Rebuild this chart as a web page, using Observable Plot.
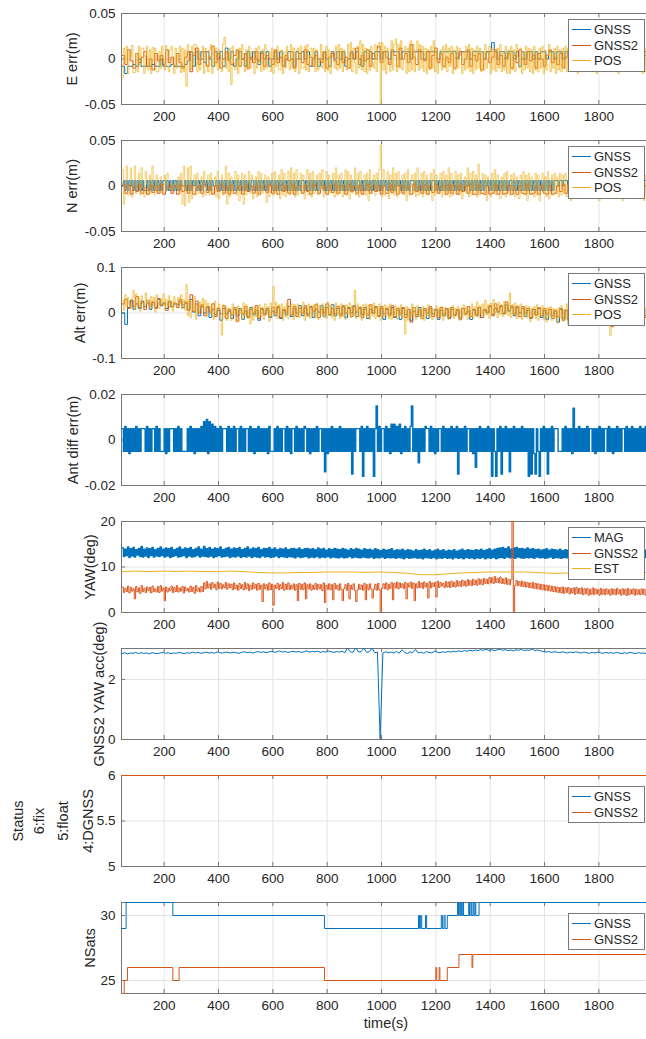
<!DOCTYPE html>
<html><head><meta charset="utf-8">
<script src="https://cdn.jsdelivr.net/npm/d3@7"></script>
<script src="https://cdn.jsdelivr.net/npm/@observablehq/plot@0.6"></script>
<style>
html,body{margin:0;padding:0;overflow:hidden;background:#fff;width:646px;height:1039px}
#chart{position:relative;width:652px}
.panel{position:relative}
.panel svg{display:block;overflow:visible}
.legend{position:absolute;left:568px;width:75px;background:#fff;border:1px solid #7a7a7a;font:13px "Liberation Sans",Arial,sans-serif;color:#262626;padding:2px 0;z-index:2}
.legend .row{display:flex;align-items:center;height:15.5px;white-space:nowrap}
.legend .sw{width:19px;height:0;border-top:1px solid;margin:0 3px 0 3px}
</style></head><body><div id="chart"></div>
<script>
// ---------- data ----------
const xTicks = [200, 400, 600, 800, 1000, 1200, 1400, 1600, 1800];
const timeDomain = [43, 1990];
const sampleStart = 45, sampleStep = 10, fastSampleStep = 5, estSampleStep = 50;

// E error (mm)
const eErrGnss = [-8,-16,-8,-8,-6,-8,0,-8,-8,-8,-8,-6,-8,-8,0,-8,-8,-8,-6,-8,
-8,-8,-8,-6,-2,8,-8,8,0,8,-4,8,0,-8,8,0,8,-8,12,0,
8,-8,0,8,0,-8,8,0,8,0,-6,8,0,8,-8,0,8,0,8,-8,
0,8,0,-8,8,0,8,0,8,-8,0,8,-8,0,8,0,-8,8,0,8,
0,8,-8,0,8,0,8,0,-8,8,0,8,0,8,8,0,8,8,0,8,
8,8,0,8,8,8,0,8,8,8,8,0,8,8,8,8,0,8,8,8,
8,8,8,0,8,8,8,8,0,8,8,8,8,0,8,8,18,8,0,8,
8,0,8,8,0,8,-8,8,0,8,8,0,8,0,8,8,0,8,8,0,
8,8,0,8,8,8,-8,8,8,0,8,8,8,0,8,8,8,8,0,8,
8,8,0,8,8,8,8,-8,8,8,0,8,8,8,8];
const eErrGnss2 = [4,-6,10,-2,-10,6,-4,2,8,-8,0,-12,6,-2,4,-6,10,-4,2,-8,
6,-4,-10,2,8,-14,4,12,-6,0,8,-8,2,14,-4,6,-10,0,8,-2,
-6,4,10,-8,0,6,-10,2,-4,8,-2,6,-8,4,0,-6,10,-4,2,-8,
4,-2,8,-10,0,6,-4,10,-6,2,-8,4,0,-4,8,-10,2,6,-2,-6,
8,-4,2,-10,6,0,12,-6,4,-2,10,-8,6,0,14,-4,8,2,-6,10,
4,-8,12,0,6,-4,16,2,-6,10,0,-2,8,-10,4,12,-4,6,-8,2,
-4,6,-10,2,8,-6,0,10,-8,4,-2,6,-12,0,8,-4,2,10,-6,4,
-8,2,6,-10,4,-4,10,0,-6,8,-2,4,-10,6,0,-8,4,10,-4,2,
-6,6,-10,2,8,-4,0,6,-8,10,-2,4,-6,8,0,-10,4,2,-4,6,
-8,2,8,-6,4,-2,10,-4,0,6,-8,2,4,-6,8];
// one sample per 5 s
const eErrPos = [-20,12,-4,14,-16,8,2,15,-15,-15,6,-14,14,-8,12,12,-16,4,14,-12,
10,-16,13,-2,12,-14,-14,8,-10,14,0,-12,15,-8,-14,10,14,-6,-16,12,
-10,4,14,-15,12,-14,10,-30,16,-2,-12,14,-8,16,16,-14,10,-12,2,14,
-16,12,-6,-14,10,16,-16,14,-8,12,-12,10,4,-14,16,24,-10,8,-14,12,
-28,14,-4,-12,10,-16,12,-8,16,0,-14,10,-12,14,-10,8,8,-16,12,-10,
14,-4,-14,10,-12,16,-10,2,8,-14,12,-16,10,-8,14,-12,-12,10,-16,8,
-10,14,0,-12,16,-10,12,-14,6,12,-16,14,-10,-10,14,-12,16,-14,4,12,
-8,12,-14,10,-12,-2,16,-10,8,-14,14,-12,10,-16,8,2,-10,14,-12,16,
-10,12,-14,10,0,-12,16,-10,18,-14,12,-4,-16,14,-10,20,-12,16,-14,12,
-16,10,-12,14,-4,-10,16,-14,12,18,-50,18,-12,14,-16,12,-2,-14,20,-12,
16,22,-14,16,-10,20,-12,0,14,-16,12,-14,20,-12,16,-14,10,20,-12,16,
-10,14,-14,12,-16,10,-12,14,-10,20,-14,12,-16,0,10,-12,14,-10,16,-14,
12,-8,14,-16,10,-12,14,-10,12,4,-16,8,-12,14,-10,16,-14,12,-16,10,
-12,14,-10,12,-14,8,-12,16,-10,0,14,-16,12,-12,10,-14,12,-10,16,-14,
8,-12,14,-16,10,-16,14,-12,10,-14,16,2,-10,12,-16,8,-12,14,-10,12,
-14,10,-16,14,-12,8,-14,12,-10,14,-16,10,-12,4,16,-14,8,-10,12,-16,
14,-12,10,-14,12,-10,14,-14,12,-10,16,-12,14,-10,12,-16,10,-12,14,-10,
12,-14,10,-12,16,-10,12,-14,8,-16,12,-10,14,-12,10,-14,16,-12,10,-8,
14,-12,10,-14,12,-16,8,-10,14,-12,10,-14,12,-8,16,-12,10,-14,12,-10,
14,-12,10,-16,12,-14,8,-10,14];

// N error (mm), GNSS and POS one sample per 5 s, GNSS2 one per 10 s
const nErrGnss = [0,6,-5,6,-5,6,0,6,-5,6,-5,6,-5,6,-5,6,-5,-5,6,-5,
6,-5,6,-5,6,-5,6,-5,6,-5,6,6,-5,6,-5,6,-5,6,-5,6,
-5,6,-5,6,0,0,6,-5,6,-5,6,-5,6,0,6,-5,6,-5,6,-5,
6,0,6,-5,6,-5,6,0,0,6,-5,6,-5,6,-5,6,-5,6,-5,6,
-5,6,-5,6,-5,6,-5,6,-5,6,-5,6,-5,6,-5,6,6,-5,6,-5,
6,-5,6,-5,6,-5,6,-5,6,0,6,-5,6,-5,6,-5,6,-5,6,-5,
6,-5,6,-5,6,-5,6,-5,6,-5,6,-5,6,6,-5,6,-5,6,-5,6,
-5,6,-5,6,-5,6,0,6,-5,6,-5,6,-5,6,-5,6,-5,6,-5,6,
-5,6,-5,6,-5,6,-5,6,-5,6,-5,6,-5,6,6,-5,6,-5,6,-5,
6,-5,6,-5,6,-5,6,-5,6,-5,6,-5,6,0,6,-5,6,-5,6,-5,
6,-5,6,0,6,-5,6,-5,6,-5,6,-5,6,6,6,-5,6,-5,6,-5,
6,-5,6,-5,6,-5,6,-5,6,6,-5,6,-5,6,-5,6,-5,6,-5,6,
-5,6,-5,6,-5,6,-5,6,-5,6,-5,6,-5,6,0,6,-5,6,-5,6,
-5,6,-5,6,-5,6,-5,6,0,6,-5,6,-5,6,-5,6,-5,6,-5,6,
-5,6,-5,6,-5,6,6,-5,6,-5,6,-5,6,-5,6,-5,6,-5,6,-5,
6,-5,6,-5,6,-5,6,-5,6,-5,6,-5,6,-5,6,-5,6,-5,6,6,
6,0,6,6,0,6,6,6,0,6,6,0,6,6,6,0,6,6,6,0,
6,6,0,6,6,6,6,0,6,6,6,0,6,6,6,6,0,6,6,6,
0,6,6,6,6,0,6,6,6,6,0,6,6,6,0,6,6,6,6,0,
6,6,6,0,6,6,6,6,0];
const nErrGnss2 = [2,-8,1,-9,0,-6,2,-8,-2,-9,1,-7,0,-8,2,-9,-3,1,-8,0,
-9,2,-6,0,-8,1,-9,-2,0,-8,2,-7,-1,-9,0,-6,2,-8,0,-9,
1,-8,-3,0,-9,2,-6,0,-8,1,-9,-2,0,-7,2,-8,0,-9,1,-6,
0,-8,2,-9,-1,0,-8,1,-6,-9,2,0,-8,-2,1,-9,0,-7,2,-8,
-1,0,-9,2,-6,0,-8,1,-9,-3,2,-8,0,-6,1,-9,0,-8,2,-7,
0,-9,1,-8,-2,0,-9,2,-6,0,-8,1,-9,0,-7,2,-8,-1,0,-9,
2,-8,0,-9,1,-6,0,-8,2,-9,-9,1,-8,-9,0,-9,-8,2,-9,0,
-9,-8,1,-9,-2,-9,0,-8,-9,2,-9,-8,0,-9,1,-8,-9,0,-9,-8,
0,-6,2,-8,0,-9,1,-7,0,-8,2,-9,0,-6,1,-8,0,-9,2,-7,
0,-8,1,-9,0,-6,2,-8,0,-9,1,-7,0,-8,2];
const nErrPos = [18,-20,4,22,-10,2,20,-12,0,22,-8,3,14,-10,20,-2,-12,16,2,-10,
12,-8,22,0,-10,12,-6,4,10,-8,1,12,-6,14,-2,-4,6,-8,2,4,
-3,10,-8,14,-20,22,-22,2,20,-18,22,-14,0,12,-10,14,-8,2,10,-12,
16,-10,3,12,-10,14,-8,0,10,-12,16,-14,2,12,-10,4,22,-20,14,-12,
10,-8,2,16,-10,12,-16,0,14,-20,12,-10,3,16,-8,12,-14,0,10,-12,
16,-10,14,-8,2,12,-18,10,-12,0,14,-10,16,-8,4,12,-14,18,-10,14,
-12,2,16,-10,20,-8,14,-12,18,-10,0,14,-8,12,-14,2,18,-10,14,-12,
16,-8,4,12,-10,14,-4,18,-12,0,16,-10,12,-8,2,14,-12,20,-10,12,
-8,14,-12,2,18,-10,16,-14,12,-8,0,20,-10,14,-12,16,-8,2,12,-10,
14,-16,18,-8,2,12,-10,14,-6,18,45,-12,18,-10,4,16,-14,12,-8,20,
-10,14,-12,16,-8,2,12,-10,14,-16,18,-10,0,12,-8,14,-12,20,-10,4,
14,-12,16,-8,12,-10,2,14,-16,18,-10,12,-8,0,14,-12,16,-10,12,-8,
20,-12,14,-10,2,16,-8,12,-10,14,-14,0,10,-8,20,-12,14,-10,16,-8,
12,-12,24,-10,2,14,-8,12,-16,10,0,-12,14,-8,18,-10,12,2,-14,10,
-8,14,-12,16,0,-10,12,-8,14,-12,10,2,-14,12,-8,16,-10,12,-16,14,
-8,10,2,-12,14,-10,12,-16,0,14,-8,10,-12,16,-14,2,12,-10,14,-8,
10,-12,14,-10,12,-8,14,-12,2,10,-16,14,-8,12,-10,0,14,-12,10,-8,
14,-12,10,-14,16,-10,12,-8,14,-12,10,-16,12,-10,2,14,-8,12,-12,10,
-14,16,-10,12,-8,14,-12,10,-16,12,-10,14,-8,12,-12,10,-14,16,-10,12,
-8,14,-12,10,-16,12,-10,14,-8];

// Altitude error (mm)
const altErrGnss = [0,-25,12,28,8,20,10,26,14,22,8,24,12,30,16,22,10,24,14,20,
18,26,12,22,8,30,2,20,-6,14,0,12,-10,8,-4,6,-16,10,-2,4,
-12,8,-6,10,-14,4,-8,12,-4,6,-16,8,-2,10,-10,4,-6,12,-12,6,
-4,14,-8,10,0,16,-6,12,-2,14,-10,8,2,16,-8,12,-4,18,-6,10,
-2,14,-10,12,0,16,-8,10,-4,12,-12,8,0,14,-6,10,-14,8,-2,12,
-10,6,-14,10,-4,8,-16,4,-8,12,-6,6,-12,10,-2,8,-14,6,-6,10,
-12,8,-4,6,-10,10,-2,4,-14,8,-6,12,-10,6,0,14,-4,10,2,16,
-2,18,4,12,-6,14,0,10,-8,6,-12,8,-4,10,-10,6,-14,8,-6,4,
-20,8,-12,6,-16,10,-8,4,-22,8,-10,6,-14,10,-6,4,-12,8,-18,6,
-10,8,-14,4,-6,10,-16,6,-8,4,-12,8,-10,6,-4];
const altErrGnss2 = [20,30,10,26,14,36,12,22,8,28,16,24,10,32,18,20,6,26,14,22,
12,30,18,24,6,40,4,26,0,18,-6,14,2,20,-8,10,-2,16,-12,8,
-4,12,-18,6,-2,14,-10,8,0,16,-12,10,-4,6,-8,12,0,14,-10,8,
2,30,-4,14,-8,10,0,16,-6,12,4,18,-10,8,0,20,-4,10,-2,14,
-6,16,0,10,-8,14,2,12,-10,8,-4,18,0,12,-8,14,-2,10,-6,16,
-8,10,-2,12,-10,8,-20,12,-4,6,-12,10,0,14,-8,6,-10,12,-2,8,
-10,12,-6,8,-14,10,-2,14,-8,6,-4,12,-10,8,2,16,-6,20,4,14,
0,24,6,16,-2,12,-8,14,0,10,-10,8,-4,12,-6,10,-2,8,-12,6,
-8,10,-16,6,-4,12,-10,8,-6,10,-14,6,-2,8,-8,12,-4,6,-10,8,
-30,6,-10,8,-4,10,-12,6,-2,8,-10,4,-6,10,-8];
// one sample per 5 s
const altErrPos = [28,6,40,14,34,18,10,32,50,8,42,16,30,4,38,22,12,44,20,28,
10,36,14,34,2,40,24,10,32,18,42,8,30,16,38,12,26,4,36,20,
14,34,20,40,10,30,6,62,-6,30,-10,26,4,36,-14,20,0,24,10,32,
4,28,-8,22,14,-2,18,-14,26,-6,12,20,-10,-48,18,-8,14,-16,10,2,
-16,20,-4,12,-20,16,-2,10,-14,22,-6,18,-12,8,-24,14,-16,14,-8,12,
-10,18,-6,12,-14,20,-2,14,-18,22,-8,58,-4,24,-12,18,-6,20,-16,14,
-8,22,-12,16,-4,20,-14,18,-6,20,-10,14,-2,24,-16,12,-8,20,-12,16,
-6,18,-10,22,-14,16,-4,20,-8,14,-12,24,-6,18,-10,12,-16,22,-4,16,
-12,20,-8,14,-14,18,-2,22,-10,16,-6,50,-12,20,-8,14,-16,18,-4,20,
-10,16,-14,18,-6,22,-12,14,-8,20,-16,12,-10,18,-6,14,-12,20,-14,10,
-8,16,-14,12,-6,18,-12,10,-46,14,-16,8,-10,20,-6,12,-14,16,-8,10,
-12,14,-16,10,-6,18,-10,12,-14,8,-4,16,-12,10,-8,14,-16,12,-6,10,
-14,12,-8,16,-12,10,-4,14,-16,8,-10,18,-6,12,-14,10,-8,20,-12,14,
-6,24,-10,16,-2,20,-8,28,-4,18,-12,22,-6,30,-2,16,-10,24,-4,18,
-8,26,-2,20,-6,44,-10,18,-4,22,-12,16,-6,20,-14,12,-8,16,-10,14,
-18,10,-8,14,-12,18,-16,12,-6,16,-14,10,-20,12,-8,14,-16,10,-12,8,
-22,12,-10,16,-18,8,-14,20,-26,10,-8,14,-20,12,-6,16,-16,10,-12,14,
-18,10,-14,8,-22,12,-10,16,-16,6,-12,14,-20,10,-8,12,-14,8,-18,-50,
12,-14,8,-10,16,-20,10,-6,12,-16,8,-10,14,-12,10,-18,12,-8,14,-14,
10,-12,8,-16,12,-10,14,-8,10];

// Antenna difference error (mm), one sample per 5 s
const antDiffErr = [5,-5,6,-5,5,-6,5,-5,5,-5,6,-5,5,-5,5,5,5,-5,6,-5,
5,-5,5,5,-5,6,-5,5,-5,-5,-5,5,-6,5,-5,5,5,5,-5,5,
-5,6,-5,5,-5,-5,-5,-5,5,-5,6,-5,5,-6,5,-5,5,-5,6,-5,
8,-5,9,-6,8,-5,7,-5,6,-5,5,-5,6,-5,5,5,5,-5,6,-5,
5,-5,6,-5,5,5,-5,6,-5,5,-5,5,5,-5,6,-5,5,-6,5,-5,
6,-5,5,-5,5,-5,5,-6,6,-5,-5,-5,5,-5,6,-5,5,-5,5,5,
-5,6,-5,5,-6,5,5,-5,6,-5,5,-5,5,-5,6,5,-5,5,-6,5,
-5,5,-5,6,-5,5,5,-5,5,-14,5,-6,5,-5,6,-5,5,-5,5,-5,
6,-5,5,-5,5,-5,5,-5,5,-15,5,-5,5,5,5,-5,6,-16,5,-5,
6,-5,5,-5,5,-16,5,15,-5,6,-5,5,5,-5,6,-5,5,-6,7,-5,
7,-5,6,-5,7,-6,5,-5,6,-5,5,-5,6,15,-5,5,-5,5,-10,5,
-5,5,-5,6,5,5,-5,6,-5,5,-6,5,-5,5,5,-5,6,-5,5,-5,
5,-5,6,-5,5,-5,6,-15,5,-5,5,-5,6,-5,5,5,-5,5,-6,5,
-12,5,-5,6,-5,5,-5,5,-5,6,-5,5,-16,5,-5,-16,5,-5,6,-15,
5,-5,6,-5,5,-14,5,-5,6,-5,5,-5,5,-5,6,-5,5,-5,5,-16,
5,-15,5,-6,-15,5,-5,-16,5,-5,6,-5,5,-15,5,-5,6,-5,5,5,
5,-5,-5,-5,5,-5,6,-5,5,-5,5,-6,14,-5,5,-5,6,-5,5,-5,
5,-5,6,-5,5,5,-5,5,-6,5,-5,6,-5,5,-5,5,5,-5,6,-5,
5,-6,5,-5,6,-5,5,-5,5,5,-5,6,-5,5,-5,6,-5,5,-5,5,
-5,6,-5,5,-5,6,-5,5,-5];

// Yaw (deg), one sample per 5 s
const yawMag = [14.2,12.3,13.9,12.5,14.4,12.1,14.0,12.4,14.3,12.2,13.8,12.6,14.1,12.3,14.5,12.2,13.9,12.4,14.2,12.1,
14.0,12.5,14.3,12.2,13.8,12.4,14.1,12.3,14.4,12.5,13.9,12.2,14.2,12.4,14.0,12.1,14.3,12.3,13.8,12.5,
14.1,12.2,14.4,12.3,13.9,12.5,14.2,12.1,14.0,12.4,14.3,12.2,13.8,12.3,14.1,12.5,14.4,12.2,13.9,12.4,
14.5,12.3,14.0,12.2,14.3,12.4,13.9,12.1,14.2,12.3,14.0,12.5,14.4,12.2,13.8,12.3,14.1,12.4,14.3,12.1,
13.9,12.3,14.2,12.2,14.0,12.4,14.3,12.1,13.8,12.3,14.1,12.2,14.4,12.4,13.9,12.1,14.2,12.3,14.0,12.2,
14.3,12.1,13.8,12.4,14.1,12.2,14.0,12.3,14.3,12.1,13.9,12.2,14.2,12.4,13.8,12.1,14.1,12.3,13.9,12.2,
14.2,12.1,13.8,12.3,14.0,12.2,14.1,12.0,13.9,12.3,14.2,12.1,13.8,12.2,14.0,12.3,14.1,12.0,13.9,12.2,
14.0,12.1,13.8,12.3,14.2,12.0,13.9,12.2,14.1,12.1,13.7,12.3,14.0,12.0,13.8,12.2,14.1,12.1,13.9,12.0,
13.8,12.2,14.1,12.0,13.9,12.1,13.7,12.3,14.0,12.0,13.8,12.2,14.1,12.1,13.9,12.0,13.7,12.2,14.0,12.1,
13.8,12.0,13.9,12.2,13.7,11.9,14.0,12.1,13.8,12.0,13.6,12.2,13.9,11.9,13.7,12.1,13.8,12.0,14.0,12.1,
13.6,11.9,13.8,12.1,13.7,12.0,13.9,11.8,13.6,12.1,13.8,11.9,13.7,12.0,13.5,12.1,13.8,11.9,13.6,12.0,
13.7,11.8,13.9,12.1,13.6,12.0,13.8,11.9,13.5,12.1,13.7,11.8,13.9,12.0,13.6,11.9,13.8,12.1,13.5,11.9,
13.7,12.0,13.6,11.8,13.8,12.1,13.5,11.9,13.7,12.0,13.9,11.8,13.6,12.1,13.8,11.9,13.7,12.0,13.6,11.8,
13.8,12.0,13.7,11.9,13.9,12.1,13.6,11.8,13.8,12.0,14.0,11.9,13.7,12.1,13.9,11.8,14.1,12.0,14.2,12.1,
14.3,11.9,14.0,12.2,14.4,12.0,13.9,12.1,14.2,11.9,14.3,12.2,14.0,12.0,14.1,11.9,13.9,12.1,14.2,12.0,
13.9,12.1,14.0,11.9,13.8,12.2,13.9,12.0,13.7,12.1,13.8,11.9,14.0,12.0,13.7,12.2,13.9,11.9,13.8,12.1,
13.7,12.0,13.9,11.9,13.6,12.1,13.8,12.0,13.7,11.8,13.9,12.1,13.6,12.0,13.8,11.9,13.7,12.1,13.9,12.0,
13.6,11.9,13.8,12.1,13.7,12.0,13.9,11.9,13.6,12.1,13.8,12.0,13.7,11.8,13.9,12.1,13.6,12.0,13.8,11.9,
13.7,12.1,13.9,12.0,13.6,11.9,13.8,12.1,13.7,12.0,13.9,11.9,13.6,12.1,13.8,12.0,13.7,11.9,13.9,12.1,
13.6,12.0,13.8,11.9,13.7,12.1,13.9,12.0,13.6];
const yawGnss2 = [5.6,4.4,5.3,4.6,5.8,4.3,5.5,4.7,5.2,3.0,5.7,4.5,5.4,4.2,5.9,4.6,5.3,4.4,5.6,4.8,
5.5,4.3,5.8,4.6,5.2,4.5,5.7,4.4,5.9,4.7,5.4,2.6,5.6,4.5,5.3,4.8,5.8,4.4,5.5,4.6,
5.9,4.5,5.4,4.7,5.7,4.3,5.6,4.8,5.3,4.5,5.8,4.6,5.5,4.2,5.9,4.7,5.4,4.5,5.7,4.6,
6.5,5.2,6.8,5.4,6.3,5.1,6.6,5.5,6.2,5.0,6.7,5.3,6.4,5.2,6.1,5.4,6.6,5.1,6.3,5.5,
6.2,5.0,6.5,5.2,6.0,4.9,6.4,5.3,6.1,5.0,6.6,5.2,6.3,4.8,6.0,5.1,6.5,5.3,6.2,4.9,
6.4,5.1,6.0,2.4,6.3,5.2,6.1,4.9,6.5,5.0,6.2,1.6,6.0,5.3,6.4,5.0,6.1,5.2,6.6,4.9,
6.2,5.1,6.5,5.0,6.0,5.2,6.3,4.9,6.1,2.6,6.4,5.1,6.2,5.0,6.5,3.0,6.1,5.2,6.3,4.9,
6.0,5.1,6.4,5.0,6.2,5.2,6.1,4.8,6.5,2.2,6.0,5.1,6.3,5.0,6.1,2.8,6.4,5.2,6.0,4.9,
6.3,5.0,2.6,5.2,6.1,4.9,6.4,3.0,6.0,5.1,6.3,4.8,2.4,5.0,6.2,5.1,6.0,4.9,6.4,2.8,
6.1,5.0,6.3,5.2,3.2,5.1,6.2,4.9,6.4,5.0,0.0,5.3,6.3,5.2,6.5,5.0,6.2,5.3,6.6,2.8,
6.4,5.4,6.7,5.2,6.5,5.5,6.3,5.3,6.6,3.0,6.4,5.6,6.7,5.3,6.5,2.6,6.3,5.4,6.8,5.5,
6.5,5.3,6.7,5.6,6.4,3.2,6.8,5.4,6.5,5.7,6.6,3.4,6.9,5.5,6.6,5.8,6.4,5.5,6.8,5.6,
6.7,5.5,6.9,5.7,6.6,5.6,7.0,5.8,6.8,5.7,7.1,5.9,6.9,5.8,7.2,6.0,7.0,5.9,7.3,6.1,
7.1,6.0,7.4,6.2,7.2,6.1,7.5,6.4,7.3,6.3,7.7,6.5,7.6,6.4,7.9,6.6,7.5,6.5,7.8,6.4,
7.4,6.3,7.6,6.2,7.3,6.1,7.2,25,-5,6.0,7.0,5.9,6.8,5.8,6.9,5.7,6.7,5.6,6.6,5.5,
6.5,5.4,6.6,5.3,6.4,5.2,6.3,5.1,6.2,5.0,6.1,4.9,6.0,4.8,5.9,4.7,5.8,4.6,5.7,4.5,
5.6,4.4,5.5,4.3,5.6,4.2,5.4,4.4,5.5,4.1,5.3,4.3,5.4,4.0,5.5,4.2,5.3,4.1,5.4,3.9,
5.2,4.1,5.3,3.8,5.1,4.0,5.4,3.9,5.2,4.1,5.0,3.8,5.3,4.0,5.1,3.9,5.2,4.1,5.0,3.8,
5.2,4.0,5.1,3.9,5.3,4.1,5.0,3.8,5.2,4.0,5.1,3.7,5.3,3.9,5.0,4.1,5.2,3.8,5.1,4.0,
5.0,3.9,5.2,4.0,5.1,3.8,5.0,4.1,5.2];
// one sample per 50 s
const yawEst = [9.0,9.1,9.0,9.1,9.0,9.1,9.0,9.0,9.1,9.0,8.8,8.7,8.7,8.8,8.8,8.9,8.9,8.9,8.8,8.9,
8.8,8.6,8.3,8.3,8.5,8.7,8.8,8.9,8.9,8.9,8.9,8.7,8.6,8.7,8.8,8.8,8.7,8.8,8.8,8.8];

// GNSS2 yaw accuracy (deg), one sample per 10 s
const yawAccGnss2 = [2.86,2.89,2.85,2.88,2.87,2.90,2.86,2.89,2.87,2.88,2.85,2.89,2.87,2.86,2.88,2.90,2.87,2.89,2.86,2.88,
2.87,2.90,2.88,2.86,2.89,2.87,2.91,2.88,2.90,2.87,2.89,2.91,2.88,2.90,2.87,2.92,2.89,2.88,2.91,2.90,
2.88,2.91,2.89,2.87,2.90,2.92,2.89,2.91,2.88,2.90,2.93,2.90,2.92,2.89,2.91,2.94,2.90,2.92,2.95,2.91,
2.93,2.90,2.92,2.94,2.91,2.93,2.90,2.92,2.95,2.91,2.93,2.92,2.94,2.90,2.93,2.91,2.95,2.92,2.90,2.93,
2.91,2.94,2.89,3.05,2.92,2.90,3.06,2.91,2.93,3.04,2.90,2.92,3.05,2.89,2.91,0.00,2.88,2.92,2.89,2.91,
2.88,2.93,2.87,2.99,2.90,2.86,2.92,2.89,3.00,2.88,2.91,2.87,2.93,2.90,2.88,2.94,2.91,2.89,2.92,2.90,
2.93,2.91,2.94,2.92,2.95,2.93,2.96,2.94,2.97,2.95,2.98,2.96,2.99,2.97,3.00,2.97,2.99,2.96,2.98,3.01,
2.97,2.99,2.96,2.98,2.95,2.99,2.97,3.00,2.96,2.98,2.97,3.01,2.96,2.98,2.95,2.93,2.91,2.93,2.90,2.92,
2.91,2.89,2.92,2.90,2.88,2.91,2.89,2.92,2.90,2.88,2.91,2.89,2.87,2.90,2.88,2.91,2.89,2.87,2.90,2.88,
2.89,2.87,2.90,2.88,2.86,2.89,2.87,2.90,2.88,2.86,2.89,2.87,2.88,2.86,2.89];

// Fix status (6 = fix)
const statusTime = [43, 1990];
const statusGnss = [6, 6];
const statusGnss2 = [6, 6];

// Number of satellites (change points)
const nsatsGnssTime = [43,60,232,790,1136,1140,1144,1148,1162,1166,1220,1224,1230,1234,1242,1280,1283,1286,1289,1292,1295,1299,1302,1321,1324,1329,1332,1337,1340,1344,1347,1359,1990];
const nsatsGnss = [29,31,30,29,30,29,30,29,30,29,30,29,30,29,30,31,30,31,30,31,30,31,30,31,30,31,30,31,30,31,30,31,31];
const nsatsGnss2Time = [43,53,65,232,255,790,1200,1203,1212,1215,1242,1285,1333,1336,1990];
const nsatsGnss2 = [24,25,26,25,26,25,26,25,26,25,26,27,26,27,27];

// ---------- chart ----------
const blue = "#0072BD", orange = "#D95319", yellow = "#EDB120";
const frameColor = "#767676", gridColor = "#e4e4e4", textColor = "#262626";
const W = 652, ML = 121, MR = 2, MT = 13, PH = 91, MB = 23;
const mm = 0.001;
const STEP = "step-after";

const regular = (values, start, step, k = 1) => values.map((v, i) => ({t: start + step * i, v: v * k}));
const paired = (times, values) => times.map((t, i) => ({t, v: values[i]}));

const panels = [
  {labels: [["E err(m)", 72]], yDomain: [-0.05, 0.05], yTicks: [-0.05, 0, 0.05],
   series: [{data: regular(eErrGnss, sampleStart, sampleStep, mm), color: blue, curve: STEP},
            {data: regular(eErrGnss2, sampleStart, sampleStep, mm), color: orange, curve: STEP},
            {data: regular(eErrPos, sampleStart, fastSampleStep, mm), color: yellow, curve: STEP, opacity: 0.72}],
   legend: ["GNSS", "GNSS2", "POS"], legendTop: 19},
  {labels: [["N err(m)", 72]], yDomain: [-0.05, 0.05], yTicks: [-0.05, 0, 0.05],
   series: [{data: regular(nErrGnss, sampleStart, fastSampleStep, mm), color: blue, curve: STEP},
            {data: regular(nErrGnss2, sampleStart, sampleStep, mm), color: orange, curve: STEP},
            {data: regular(nErrPos, sampleStart, fastSampleStep, mm), color: yellow, curve: STEP, opacity: 0.62}],
   legend: ["GNSS", "GNSS2", "POS"], legendTop: 19},
  {labels: [["Alt err(m)", 80]], yDomain: [-0.1, 0.1], yTicks: [-0.1, 0, 0.1],
   series: [{data: regular(altErrGnss, sampleStart, sampleStep, mm), color: blue, curve: STEP},
            {data: regular(altErrGnss2, sampleStart, sampleStep, mm), color: orange, curve: STEP},
            {data: regular(altErrPos, sampleStart, fastSampleStep, mm), color: yellow, curve: STEP, opacity: 0.72}],
   legend: ["GNSS", "GNSS2", "POS"], legendTop: 19},
  {labels: [["Ant diff err(m)", 73]], yDomain: [-0.02, 0.02], yTicks: [-0.02, 0, 0.02],
   series: [{data: regular(antDiffErr, sampleStart, fastSampleStep, mm), color: blue, curve: STEP, width: 1.4}]},
  {labels: [["YAW(deg)", 90]], yDomain: [0, 20], yTicks: [0, 10, 20],
   series: [{data: regular(yawMag, sampleStart, fastSampleStep), color: blue, curve: STEP, width: 1.4},
            {data: regular(yawGnss2, sampleStart, fastSampleStep), color: orange, curve: STEP},
            {data: regular(yawEst, sampleStart, estSampleStep), color: yellow}],
   legend: ["MAG", "GNSS2", "EST"], legendTop: 19},
  {labels: [["GNSS2 YAW acc(deg)", 99]], yDomain: [0, 3.03], yTicks: [0, 2],
   series: [{data: regular(yawAccGnss2, sampleStart, sampleStep), color: blue}]},
  {labels: [["Status", 17.5], ["6:fix", 39], ["5:float", 62.5], ["4:DGNSS", 88]], yDomain: [5, 6], yTicks: [5, 5.5, 6],
   series: [{data: paired(statusTime, statusGnss), color: blue, noClip: true},
            {data: paired(statusTime, statusGnss2), color: orange, noClip: true}],
   legend: ["GNSS", "GNSS2"], legendTop: 24},
  {labels: [["NSats", 90]], yDomain: [24, 31], yTicks: [25, 30],
   series: [{data: paired(nsatsGnssTime, nsatsGnss), color: blue, curve: STEP, noClip: true},
            {data: paired(nsatsGnss2Time, nsatsGnss2), color: orange, curve: STEP, noClip: true}],
   legend: ["GNSS", "GNSS2"], legendTop: 24, xLabel: "time(s)"}
];

const root = document.getElementById("chart");
panels.forEach((cfg, idx) => {
  const last = cfg.xLabel != null;
  const H = last ? 150 : 127;
  const marks = [
    Plot.ruleX(xTicks, {x: d => d, stroke: gridColor}),
    Plot.ruleY(cfg.yTicks, {y: d => d, stroke: gridColor}),
    Plot.frame({stroke: frameColor}),
    Plot.ruleX(xTicks, {x: d => d, stroke: frameColor, insetTop: PH - 4}),
    Plot.ruleX(xTicks, {x: d => d, stroke: frameColor, insetBottom: PH - 4}),
    Plot.ruleY(cfg.yTicks, {y: d => d, stroke: frameColor, insetRight: W - ML - MR - 4}),
    ...cfg.series.map(s => Plot.line(s.data, {x: "t", y: "v", stroke: s.color, strokeWidth: s.width || 1, strokeOpacity: s.opacity || 1, curve: s.curve || "linear", clip: !s.noClip})),
    ...cfg.labels.map(([txt, cx]) => Plot.text([txt], {text: d => d, frameAnchor: "left", textAnchor: "middle", lineAnchor: "middle", rotate: -90, dx: cx - ML, fontSize: 14.5, fill: textColor}))
  ];
  if (last) marks.push(Plot.text([cfg.xLabel], {text: d => d, frameAnchor: "bottom", textAnchor: "middle", dy: 34, fontSize: 14.5, fill: textColor}));
  const svg = Plot.plot({
    width: W, height: H, marginLeft: ML, marginRight: MR, marginTop: MT, marginBottom: H - MT - PH,
    x: {domain: timeDomain, ticks: xTicks, tickSize: 0, tickPadding: 7, tickFormat: d => String(d), label: null},
    y: {domain: cfg.yDomain, ticks: cfg.yTicks, tickSize: 0, tickPadding: 6, tickFormat: d => String(d), label: null},
    style: {fontFamily: '"Liberation Sans", Arial, sans-serif', fontSize: "13.5px", color: textColor, background: "transparent", overflow: "visible"},
    marks
  });
  const wrap = document.createElement("div");
  wrap.className = "panel";
  wrap.style.height = H + "px";
  wrap.style.zIndex = String(20 - idx);
  wrap.appendChild(svg);
  if (cfg.legend) {
    const box = document.createElement("div");
    box.className = "legend";
    box.style.top = cfg.legendTop + "px";
    cfg.legend.forEach((name, i) => {
      const row = document.createElement("div");
      row.className = "row";
      const sw = document.createElement("span");
      sw.className = "sw";
      sw.style.borderTopColor = cfg.series[i].color;
      const tx = document.createElement("span");
      tx.textContent = name;
      row.appendChild(sw); row.appendChild(tx);
      box.appendChild(row);
    });
    wrap.appendChild(box);
  }
  root.appendChild(wrap);
});
</script></body></html>
